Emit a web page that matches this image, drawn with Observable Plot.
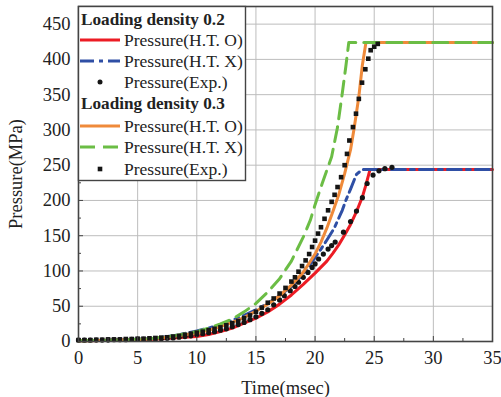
<!DOCTYPE html>
<html><head><meta charset="utf-8">
<script src="https://cdn.jsdelivr.net/npm/d3@7"></script>
<script src="https://cdn.jsdelivr.net/npm/@observablehq/plot@0.6"></script>
<style>
html,body{margin:0;padding:0;background:#fff;}
#wrap{position:relative;width:501px;height:397px;}
#legend{position:absolute;left:0;top:0;pointer-events:none;}
</style></head><body><div id="wrap"></div>
<script>
// Loading density 0.2
const redT = [0,2,4,6,8,10,11,12,13,14,15,16,17,18,19,20,21,21.5,22,22.5,23,23.5,24,24.3,24.65,35];
const redP = [1,1.5,2,3,5,7,10,14,19,26,33,42,53,66,81,97,114,125,137,151,166,184,205,222,244,244];
const blueT = [0,2,4,6,8,10,11,12,13,14,15,16,17,18,19,20,20.5,21,21.6,22.3,22.6,23,23.5,24.0,35];
const blueP = [1,1.5,2.5,4,8,15,19,24,30,37,45,54,65,78,96,119,131,144,160,186,200,216,237,244,244];
const circT = [0,0.5,1,1.5,2,2.5,3,3.5,4,4.5,5,5.5,6,6.5,7,7.5,8,8.5,9,9.5,10,10.5,11,11.5,12,12.5,13,13.5,14,14.5,15,15.5,16,16.5,17.0,17.4,17.9,18.3,18.6,19.0,19.4,19.75,20.0,20.3,20.7,21.1,21.4,21.7,22.4,23.0,23.5,24.0,24.4,24.9,25.4,25.9,26.5];
const circP = [2,2,2,2,2,2,2.5,2.5,2.5,3,3,3,3.5,3.5,4,4.5,5,6,7,8,10,11,12.5,14,16,18,21,24,27,31,35,40,45,52,59,65,72,78,84,91,98,105,110,117,124,131,136,141,155,170,185,204,224,236,242,245,247];
// Loading density 0.3
const orangeT = [0,2,4,6,8,10,11,12,13,14,15,16,17,18,19,20,20.5,21,21.5,22,22.5,23,23.3,23.7,24.0,24.3,35];
const orangeP = [1,1.5,2,3.5,7,12,16,21,27,34,43,53,65,80,98,124,141,161,184,208,238,272,302,347,392,424,424];
const greenT = [0,2,4,6,8,10,11,12,13,14,15,16,17,18,19,19.6,20,20.6,21.4,21.9,22.3,22.6,22.85,35];
const greenP = [1,1.5,2.5,4,8,14,19,25,32,42,54,70,89,114,148,172,194,224,262,304,352,390,424,424];
const sqT = [0,0.5,1,1.5,2,2.5,3,3.5,4,4.5,5,5.5,6,6.5,7,7.5,8,8.5,9,9.5,10,10.5,11,11.5,12,12.5,13,13.5,14,14.5,15,15.5,16,16.5,17,17.5,18,18.3,18.6,18.9,19.2,19.5,19.75,20.0,20.25,20.5,20.8,21.1,21.4,21.65,21.9,22.2,22.5,22.7,22.9,23.2,23.46,23.7,23.97,24.25,24.5,24.7,25.0,25.3];
const sqP = [2,2,2,2.5,2.5,3,3,3,3.5,3.5,4,4,4.5,5,5.5,6,7,8,9.5,11,12.5,14,16,18,20,23,26,29,33,37,42,48,55,61,68,76,85,91,99,107,115,124,134,143,153,162,174,186,198,208,219,233,250,266,285,304,323,344,367,386,401,413,418,422];

const xMajor = [0,5,10,15,20,25,30,35];
const xMinor = [2.5,7.5,12.5,17.5,22.5,27.5,32.5];
const yMajor = [0,50,100,150,200,250,300,350,400,450];
const yMinor = [25,75,125,175,225,275,325,375,425];

const zipTP = (t, p) => t.map((v, i) => ({t: v, p: p[i]}));
const red = zipTP(redT, redP), blue = zipTP(blueT, blueP), circ = zipTP(circT, circP);
const orange = zipTP(orangeT, orangeP), green = zipTP(greenT, greenP), sq = zipTP(sqT, sqP);

const C = {red: "#ec1c24", blue: "#2f4fa5", orange: "#ef8a3a", green: "#6bbd45", dot: "#151515"};
const blueDash = "14,5,4,5", greenDash = "15,8";

const chart = Plot.plot({
  width: 501, height: 397,
  marginLeft: 78, marginRight: 9, marginTop: 6, marginBottom: 56,
  x: {domain: [0, 35]},
  y: {domain: [0, 475]},
  style: {fontFamily: "'Liberation Serif', 'Times New Roman', serif", fontSize: "18.5px", color: "#222", background: "#fff"},
  marks: [
    Plot.gridX(xMajor, {stroke: "#bdbdbd", strokeOpacity: 1}),
    Plot.gridY(yMajor, {stroke: "#bdbdbd", strokeOpacity: 1}),
    Plot.line(red, {x: "t", y: "p", stroke: C.red, strokeWidth: 3}),
    Plot.line(blue, {x: "t", y: "p", stroke: C.blue, strokeWidth: 3, strokeDasharray: blueDash}),
    Plot.dot(circ, {x: "t", y: "p", r: 2.6, fill: C.dot}),
    Plot.line(orange, {x: "t", y: "p", stroke: C.orange, strokeWidth: 3}),
    Plot.line(green, {x: "t", y: "p", stroke: C.green, strokeWidth: 3, strokeDasharray: greenDash}),
    Plot.dot(sq, {x: "t", y: "p", r: 2.6, symbol: "square", fill: C.dot}),
    Plot.tickX(xMajor, {x: d => d, insetTop: 330, stroke: "#444"}),
    Plot.tickX(xMinor, {x: d => d, insetTop: 332, stroke: "#444"}),
    Plot.tickY(yMajor, {y: d => d, insetRight: 409, stroke: "#444"}),
    Plot.tickY(yMinor, {y: d => d, insetRight: 411, stroke: "#444"}),
    Plot.axisX(xMajor, {tickSize: 0, tickPadding: 9, label: "Time(msec)", labelAnchor: "center", labelArrow: "none", labelOffset: 52}),
    Plot.axisY(yMajor, {tickSize: 0, tickPadding: 8, label: "Pressure(MPa)", labelAnchor: "center", labelArrow: "none", labelOffset: 70}),
    Plot.frame({stroke: "#444", strokeWidth: 1.6})
  ]
});
const wrap = document.getElementById("wrap");
wrap.appendChild(chart);

// Legend (inside the plot, top-left)
const leg = d3.select(wrap).append("svg").attr("id", "legend").attr("width", 501).attr("height", 397);
leg.append("rect").attr("x", 78.5).attr("y", 6.5).attr("width", 167).attr("height", 174)
  .attr("fill", "#fff").attr("stroke", "#444").attr("stroke-width", 1.4);
const font = "'Liberation Serif', 'Times New Roman', serif";
const rows = [
  {type: "title", text: "Loading density 0.2", y: 25},
  {type: "line", color: C.red, dash: null, text: "Pressure(H.T. O)", y: 40},
  {type: "line", color: C.blue, dash: blueDash, text: "Pressure(H.T. X)", y: 61},
  {type: "circle", text: "Pressure(Exp.)", y: 82},
  {type: "title", text: "Loading density 0.3", y: 109},
  {type: "line", color: C.orange, dash: null, text: "Pressure(H.T. O)", y: 126},
  {type: "line", color: C.green, dash: greenDash, text: "Pressure(H.T. X)", y: 147},
  {type: "square", text: "Pressure(Exp.)", y: 169}
];
for (const r of rows) {
  if (r.type === "title") {
    leg.append("text").attr("x", 81).attr("y", r.y).attr("font-family", font).attr("font-size", 17.2)
      .attr("font-weight", "bold").attr("fill", "#222").text(r.text);
    continue;
  }
  if (r.type === "line") {
    const l = leg.append("line").attr("x1", 80).attr("x2", 120).attr("y1", r.y).attr("y2", r.y)
      .attr("stroke", r.color).attr("stroke-width", 2.8);
    if (r.dash) l.attr("stroke-dasharray", r.dash);
  } else if (r.type === "circle") {
    leg.append("circle").attr("cx", 100).attr("cy", r.y).attr("r", 2.5).attr("fill", C.dot);
  } else {
    leg.append("rect").attr("x", 97.7).attr("y", r.y - 2.3).attr("width", 4.6).attr("height", 4.6).attr("fill", C.dot);
  }
  leg.append("text").attr("x", 124).attr("y", r.y + 6).attr("font-family", font).attr("font-size", 17.5)
    .attr("fill", "#222").text(r.text);
}
</script></body></html>
